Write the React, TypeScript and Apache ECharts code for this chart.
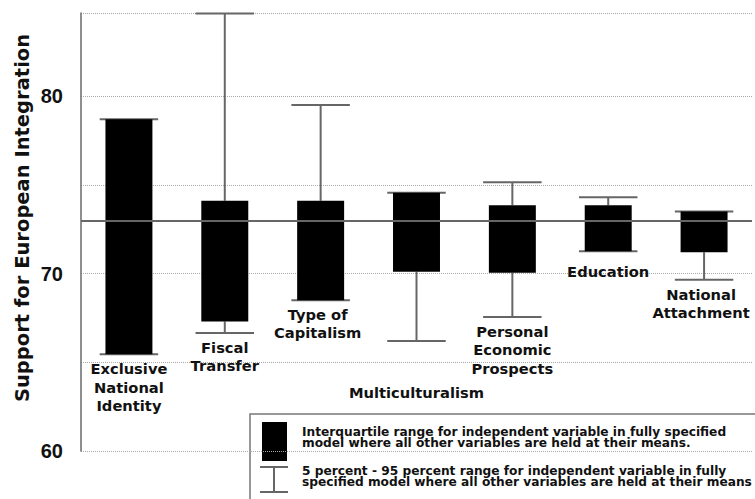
import React, { useEffect, useRef } from "react";
import * as echarts from "echarts";

const categories = [
  "Exclusive\nNational\nIdentity",
  "Fiscal\nTransfer",
  "Type of\nCapitalism",
  "Multiculturalism",
  "Personal\nEconomic\nProspects",
  "Education",
  "National\nAttachment",
];
const low = [65.45, 66.65, 68.5, 66.2, 67.55, 71.25, 69.65];
const q1 = [65.45, 67.3, 68.5, 70.1, 70.05, 71.25, 71.2];
const q3 = [78.7, 74.1, 74.1, 74.55, 73.85, 73.85, 73.5];
const high = [78.7, 84.65, 79.5, 74.55, 75.15, 74.3, 73.5];
const meanValue = 73.0;
const yTicks = [60, 70, 80];
const yMin = 60;
const yMax = 84.68;
const yTitle = "Support for European Integration";
const legendIqr = [
  "Interquartile range for independent variable in fully specified",
  "model where all other variables are held at their means.",
];
const legendRange = [
  "5 percent - 95 percent range for independent variable in fully",
  "specified model where all other variables are held at their means",
];

// label placement extras (pixels), style only
const labelExtra = [0, 0, 0, 37, 0, 5.5, 0];
const labelShiftX = [0, 0, -3, 0, 0, 0, -3];

const LABEL_FONT = '"DejaVu Sans", sans-serif';
const WHISKER = "#666";

export default function App() {
  const ref = useRef<HTMLDivElement>(null);
  useEffect(() => {
    if (!ref.current) return;
    const chart = echarts.init(ref.current, undefined, { renderer: "svg" });
    const data = categories.map((_, i) => [i, low[i], q1[i], q3[i], high[i]]);
    const legendLine = (text: string, y: number) => ({
      type: "text",
      x: 302,
      y,
      scaleX: 1.06,
      silent: true,
      style: {
        text,
        verticalAlign: "middle",
        fontSize: 11.5,
        fontWeight: "bold",
        fontFamily: LABEL_FONT,
        lineHeight: 11.5,
        fill: "#111",
      },
    });
    chart.setOption({
      animation: false,
      grid: { left: 81, right: 3, top: 13, bottom: 48, containLabel: false },
      xAxis: {
        type: "category",
        data: categories,
        boundaryGap: true,
        axisLine: { show: false },
        axisTick: { show: false },
        axisLabel: { show: false },
        splitLine: { show: false },
      },
      yAxis: {
        type: "value",
        min: yMin,
        max: yMax,
        interval: 5,
        axisLine: { show: true, lineStyle: { color: "#6a6a6a", width: 1.5 } },
        axisTick: { show: false },
        axisLabel: {
          formatter: (v: number) => (yTicks.includes(v) ? String(v) : ""),
          fontSize: 20,
          fontWeight: "bold",
          fontFamily: '"Liberation Sans", Arial, sans-serif',
          color: "#111",
          margin: 18,
        },
        splitLine: { show: true, lineStyle: { color: "#aaa", type: "dotted", width: 1 } },
      },
      series: [
        {
          type: "line",
          data: [],
          z: 1,
          markLine: {
            silent: true,
            symbol: "none",
            label: { show: false },
            lineStyle: { color: WHISKER, width: 2, type: "solid" },
            data: [{ yAxis: meanValue }],
          },
        },
        {
          type: "custom",
          z: 3,
          data,
          encode: { x: 0, y: [1, 2, 3, 4] },
          renderItem: (params: any, api: any) => {
            const i = api.value(0);
            const x = api.coord([i, 0])[0];
            const band = api.size([1, 0])[0];
            const bw = band * 0.49;
            const cw = band * 0.61;
            const yLow = api.coord([i, api.value(1)])[1];
            const yQ1 = api.coord([i, api.value(2)])[1];
            const yQ3 = api.coord([i, api.value(3)])[1];
            const yHigh = api.coord([i, api.value(4)])[1];
            const ls = { stroke: WHISKER, lineWidth: 2 };
            return {
              type: "group",
              children: [
                { type: "line", shape: { x1: x, y1: yHigh, x2: x, y2: yQ3 }, style: ls },
                { type: "line", shape: { x1: x, y1: yQ1, x2: x, y2: yLow }, style: ls },
                { type: "line", shape: { x1: x - cw / 2, y1: yHigh, x2: x + cw / 2, y2: yHigh }, style: ls },
                { type: "line", shape: { x1: x - cw / 2, y1: yLow, x2: x + cw / 2, y2: yLow }, style: ls },
                {
                  type: "rect",
                  shape: { x: x - bw / 2, y: yQ3, width: bw, height: yQ1 - yQ3 },
                  style: { fill: "#000" },
                },
                {
                  type: "text",
                  x: x + labelShiftX[i],
                  y: yLow + 6 + labelExtra[i],
                  scaleX: 1.05,
                  style: {
                    text: categories[i],
                    align: "center",
                    verticalAlign: "top",
                    fontSize: 14,
                    fontWeight: "bold",
                    fontFamily: LABEL_FONT,
                    lineHeight: 18.3,
                    fill: "#111",
                  },
                },
              ],
            };
          },
        },
      ],
      graphic: [
        {
          type: "text",
          x: 22,
          y: 218,
          rotation: Math.PI / 2,
          silent: true,
          style: {
            text: yTitle,
            align: "center",
            verticalAlign: "middle",
            fontSize: 19.5,
            fontWeight: "bold",
            fontFamily: LABEL_FONT,
            fill: "#111",
          },
        },
        {
          type: "rect",
          silent: true,
          shape: { x: 250, y: 414, width: 520, height: 120 },
          style: { fill: "none", stroke: "#777", lineWidth: 1.5 },
        },
        {
          type: "rect",
          silent: true,
          shape: { x: 262, y: 422, width: 25, height: 39 },
          style: { fill: "#000" },
        },
        { type: "line", silent: true, shape: { x1: 260, y1: 467, x2: 288, y2: 467 }, style: { stroke: WHISKER, lineWidth: 2 } },
        { type: "line", silent: true, shape: { x1: 274, y1: 467, x2: 274, y2: 492 }, style: { stroke: WHISKER, lineWidth: 2 } },
        { type: "line", silent: true, shape: { x1: 260, y1: 492, x2: 288, y2: 492 }, style: { stroke: WHISKER, lineWidth: 2 } },
        legendLine(legendIqr[0], 431.8),
        legendLine(legendIqr[1], 443.4),
        legendLine(legendRange[0], 470.8),
        legendLine(legendRange[1], 482.4),
      ],
    });
    return () => chart.dispose();
  }, []);
  return (
    <div
      ref={ref}
      style={{ position: "fixed", left: 0, top: 0, width: 755, height: 499, background: "#fff" }}
    />
  );
}
